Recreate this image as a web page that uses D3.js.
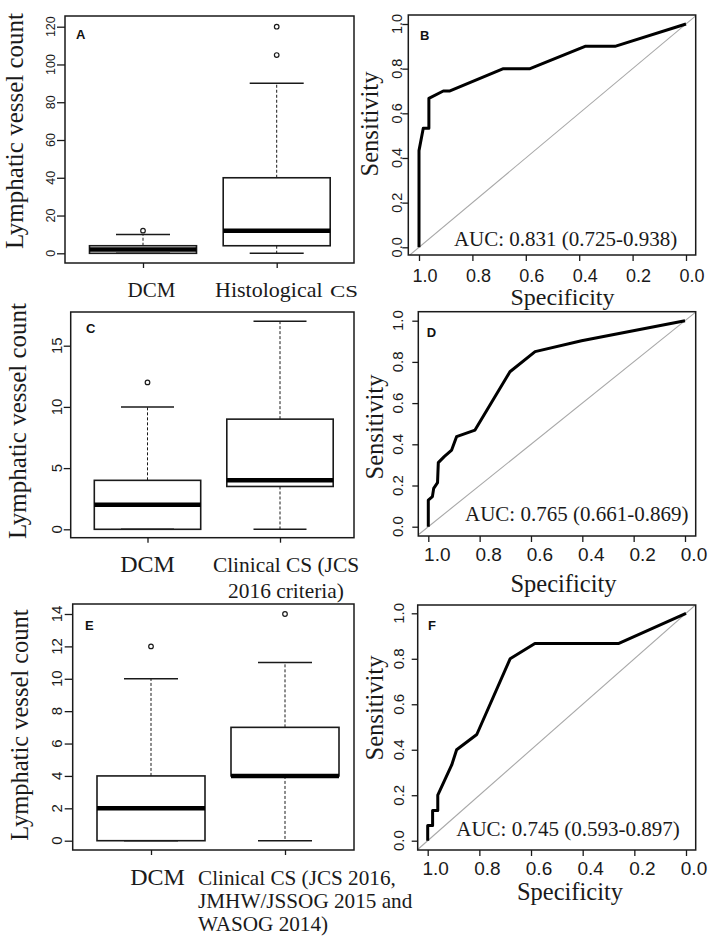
<!DOCTYPE html>
<html><head><meta charset="utf-8">
<script src="https://cdn.jsdelivr.net/npm/d3@7"></script>
<style>body{margin:0;background:#fff}svg{display:block}</style>
</head><body>
<svg id="c" width="709" height="938"></svg>
<script>
// ---------------- DATA ----------------
const categoriesA = ["DCM", "Histological CS"];
const categoriesC = ["DCM", "Clinical CS (JCS 2016 criteria)"];
const categoriesE = ["DCM", "Clinical CS (JCS 2016, JMHW/JSSOG 2015 and WASOG 2014)"];
// [lower whisker, Q1, median, Q3, upper whisker]
const boxA_DCM = [0, 0, 2, 4, 10];
const boxA_CS  = [0, 4, 12, 40, 90];
const outliersA_DCM = [12];
const outliersA_CS  = [105, 120];
const boxC_DCM = [0, 0, 2, 4, 10];
const boxC_CS  = [0, 3.5, 4, 9, 17];
const outliersC_DCM = [12];
const outliersC_CS  = [];
const boxE_DCM = [0, 0, 2, 4, 10];
const boxE_CS  = [0, 4, 4, 7, 11];
const outliersE_DCM = [12];
const outliersE_CS  = [14];
const ticksA = [0, 20, 40, 60, 80, 100, 120];
const ticksC = [0, 5, 10, 15];
const ticksE = [0, 2, 4, 6, 8, 10, 12, 14];
const rocTicks = [0, 0.2, 0.4, 0.6, 0.8, 1.0];

const rocB_spec = [1, 1, 0.984, 0.963, 0.963, 0.909, 0.884, 0.684, 0.584, 0.378, 0.266, 0];
const rocB_sens = [0, 0.433, 0.533, 0.533, 0.667, 0.70, 0.70, 0.80, 0.80, 0.90, 0.90, 1];
const rocD_spec = [1, 1, 0.984, 0.979, 0.964, 0.961, 0.938, 0.909, 0.89, 0.818, 0.682, 0.584, 0.403, 0];
const rocD_sens = [0, 0.129, 0.146, 0.186, 0.214, 0.311, 0.34, 0.372, 0.437, 0.469, 0.752, 0.85, 0.903, 1];
const rocF_spec = [1, 1, 0.981, 0.981, 0.961, 0.961, 0.907, 0.888, 0.81, 0.681, 0.585, 0.262, 0];
const rocF_sens = [0, 0.067, 0.067, 0.133, 0.133, 0.2, 0.333, 0.4, 0.467, 0.8, 0.867, 0.867, 1];
const aucB = "AUC: 0.831 (0.725-0.938)";
const aucD = "AUC: 0.765 (0.661-0.869)";
const aucF = "AUC: 0.745 (0.593-0.897)";
const yLabelBox = "Lymphatic vessel count";
const xLabelROC = "Specificity";
const yLabelROC = "Sensitivity";

// ---------------- DRAWING ----------------
const svg = d3.select("#c");
svg.append("rect").attr("width", 709).attr("height", 938).attr("fill", "#fff");
const SERIF = "'Liberation Serif','Times New Roman',serif";
const SANS = "'Liberation Sans',Arial,Helvetica,sans-serif";
const INK = "#1a1a1a";

function rotText(g, x, y, txt, size, family) {
  return g.append("text").attr("transform", `translate(${x},${y}) rotate(-90)`)
    .attr("text-anchor", "middle").attr("font-family", family).attr("font-size", size)
    .attr("fill", INK).text(txt);
}

function drawBoxPanel(cfg) {
  const g = svg.append("g");
  const [fl, ft, fr, fb] = cfg.frame;
  const y = d3.scaleLinear().domain(cfg.yDomain).range(cfg.yRange);
  const x = d3.scalePoint().domain(cfg.categories).range(cfg.centers);

  const ya = g.append("g").attr("transform", `translate(${fl},0)`)
    .call(d3.axisLeft(y).tickValues(cfg.ticks).tickSize(cfg.tickLen).tickFormat(""));
  ya.select(".domain").remove();
  ya.selectAll("line").attr("stroke", INK).attr("stroke-width", 1.3);
  cfg.ticks.forEach(v => rotText(g, cfg.tickLabelX, y(v), String(v), cfg.tickFont, SANS));

  const xa = g.append("g").attr("transform", `translate(0,${fb})`)
    .call(d3.axisBottom(x).tickSize(5).tickFormat(""));
  xa.select(".domain").remove();
  xa.selectAll("line").attr("stroke", INK).attr("stroke-width", 1.3);

  cfg.stats.forEach((s, i) => {
    const cx = x(cfg.categories[i]);
    const [lo, q1, med, q3, hi] = s;
    g.append("line").attr("x1", cx).attr("x2", cx).attr("y1", y(q3)).attr("y2", y(hi))
      .attr("stroke", INK).attr("stroke-width", 1).attr("stroke-dasharray", "3,2");
    g.append("line").attr("x1", cx).attr("x2", cx).attr("y1", y(q1)).attr("y2", y(lo))
      .attr("stroke", INK).attr("stroke-width", 1).attr("stroke-dasharray", "3,2");
    [lo, hi].forEach(v => g.append("line").attr("x1", cx - cfg.capHalf).attr("x2", cx + cfg.capHalf)
      .attr("y1", y(v)).attr("y2", y(v)).attr("stroke", INK).attr("stroke-width", 1.5));
    g.append("rect").attr("x", cx - cfg.boxHalf).attr("width", 2 * cfg.boxHalf)
      .attr("y", y(q3)).attr("height", y(q1) - y(q3))
      .attr("fill", "none").attr("stroke", INK).attr("stroke-width", 1.6);
    g.append("line").attr("x1", cx - cfg.boxHalf).attr("x2", cx + cfg.boxHalf)
      .attr("y1", y(med)).attr("y2", y(med)).attr("stroke", "#000").attr("stroke-width", 4.5);
    cfg.outliers[i].forEach(v => g.append("circle").attr("cx", cx).attr("cy", y(v)).attr("r", 2.3)
      .attr("fill", "none").attr("stroke", INK).attr("stroke-width", 1.2));
  });

  g.append("rect").attr("x", fl).attr("y", ft).attr("width", fr - fl).attr("height", fb - ft)
    .attr("fill", "none").attr("stroke", INK).attr("stroke-width", 1.5);

  g.append("text").attr("x", cfg.letterPos[0]).attr("y", cfg.letterPos[1])
    .attr("font-family", SANS).attr("font-weight", "bold").attr("font-size", 13)
    .attr("fill", "#111").text(cfg.letter);

  rotText(g, cfg.ylabX, cfg.ylabY, yLabelBox, cfg.ylabFont, SERIF);
  cfg.drawLabels(g, x);
}

function drawROC(cfg) {
  const g = svg.append("g");
  const [fl, ft, fr, fb] = cfg.frame;
  const x = d3.scaleLinear().domain([1, 0]).range(cfg.xRange);
  const y = d3.scaleLinear().domain([0, 1]).range(cfg.yRange);
  const clipId = "clip" + cfg.letter;
  g.append("clipPath").attr("id", clipId).append("rect")
    .attr("x", fl).attr("y", ft).attr("width", fr - fl).attr("height", fb - ft);

  const s1 = x.invert(fl), s2 = x.invert(fr);
  g.append("line").attr("clip-path", `url(#${clipId})`)
    .attr("x1", x(s1)).attr("y1", y(1 - s1)).attr("x2", x(s2)).attr("y2", y(1 - s2))
    .attr("stroke", "#a8a8a8").attr("stroke-width", 1.1);

  const line = d3.line().x(i => x(cfg.spec[i])).y(i => y(cfg.sens[i]));
  g.append("path").attr("d", line(d3.range(cfg.spec.length)))
    .attr("fill", "none").attr("stroke", "#000").attr("stroke-width", 3)
    .attr("stroke-linejoin", "round");

  const ya = g.append("g").attr("transform", `translate(${fl},0)`)
    .call(d3.axisLeft(y).tickValues(rocTicks).tickSize(6).tickFormat(""));
  ya.select(".domain").remove();
  ya.selectAll("line").attr("stroke", INK).attr("stroke-width", 1.3);
  rocTicks.forEach(v => rotText(g, cfg.yTickX, y(v), d3.format(".1f")(v), cfg.yTickFont, SANS));

  const xa = g.append("g").attr("transform", `translate(0,${fb})`)
    .call(d3.axisBottom(x).tickValues(rocTicks).tickSize(6).tickFormat(""));
  xa.select(".domain").remove();
  xa.selectAll("line").attr("stroke", INK).attr("stroke-width", 1.3);
  rocTicks.forEach(v => g.append("text").attr("x", x(v) + cfg.xTickDx).attr("y", cfg.xTickY)
    .attr("text-anchor", "middle").attr("font-family", SANS).attr("font-size", cfg.xTickFont)
    .attr("fill", INK).text(d3.format(".1f")(v)));

  g.append("rect").attr("x", fl).attr("y", ft).attr("width", fr - fl).attr("height", fb - ft)
    .attr("fill", "none").attr("stroke", INK).attr("stroke-width", 1.5);

  g.append("text").attr("x", cfg.letterPos[0]).attr("y", cfg.letterPos[1])
    .attr("font-family", SANS).attr("font-weight", "bold").attr("font-size", 13)
    .attr("fill", "#111").text(cfg.letter);

  g.append("text").attr("x", x(cfg.aucSpec)).attr("y", y(0) + cfg.aucDy)
    .attr("text-anchor", "middle").attr("font-family", SERIF).attr("font-size", 21)
    .attr("fill", INK).text(cfg.auc);

  g.append("text").attr("x", cfg.specPos[0]).attr("y", cfg.specPos[1])
    .attr("text-anchor", "middle").attr("font-family", SERIF).attr("font-size", cfg.specFont || 24.5)
    .attr("fill", INK).text(xLabelROC);
  rotText(g, cfg.sensPos[0], cfg.sensPos[1], yLabelROC, 24.5, SERIF);
}

// ---- Panel A ----
drawBoxPanel({
  categories: categoriesA, stats: [boxA_DCM, boxA_CS], outliers: [outliersA_DCM, outliersA_CS],
  ticks: ticksA, yDomain: [0, 120], yRange: [253.3, 26.7],
  frame: [65, 16, 354, 263], centers: [143, 276.7], boxHalf: 53.5, capHalf: 27,
  tickLen: 8, tickLabelX: 55, tickFont: 12.5,
  ylabX: 23, ylabY: 131, ylabFont: 25, letter: "A", letterPos: [76, 39],
  drawLabels: (g, x) => {
    g.append("text").attr("x", 151.5).attr("y", 296.7).attr("text-anchor", "middle")
      .attr("font-family", SERIF).attr("font-size", 21).attr("fill", INK).text("DCM");
    g.append("text").attr("x", 215).attr("y", 296.7)
      .attr("font-family", SERIF).attr("font-size", 22).attr("fill", INK).text("Histological");
    g.append("text").attr("x", 330).attr("y", 296.7)
      .attr("font-family", SERIF).attr("font-size", 17).attr("fill", INK)
      .attr("textLength", 28).attr("lengthAdjust", "spacingAndGlyphs").text("CS");
  }
});

// ---- Panel C ----
drawBoxPanel({
  categories: categoriesC, stats: [boxC_DCM, boxC_CS], outliers: [outliersC_DCM, outliersC_CS],
  ticks: ticksC, yDomain: [0, 15], yRange: [529.3, 345.7],
  frame: [70.7, 312, 354, 537.7], centers: [147.5, 280], boxHalf: 53.2, capHalf: 26.5,
  tickLen: 7, tickLabelX: 62, tickFont: 15,
  ylabX: 26, ylabY: 421, ylabFont: 25, letter: "C", letterPos: [86, 333],
  drawLabels: (g, x) => {
    g.append("text").attr("x", 147.5).attr("y", 571.7).attr("text-anchor", "middle")
      .attr("font-family", SERIF).attr("font-size", 24).attr("fill", INK).text("DCM");
    [["Clinical CS (JCS", 571.7], ["2016 criteria)", 598.3]].forEach(([t, yy]) =>
      g.append("text").attr("x", 286).attr("y", yy).attr("text-anchor", "middle")
        .attr("font-family", SERIF).attr("font-size", 21.4).attr("fill", INK).text(t));
  }
});

// ---- Panel E ----
drawBoxPanel({
  categories: categoriesE, stats: [boxE_DCM, boxE_CS], outliers: [outliersE_DCM, outliersE_CS],
  ticks: ticksE, yDomain: [0, 14], yRange: [840.7, 614],
  frame: [72.7, 604, 354, 850], centers: [151, 285], boxHalf: 54, capHalf: 27,
  tickLen: 8, tickLabelX: 62, tickFont: 15,
  ylabX: 28, ylabY: 725, ylabFont: 24.5, letter: "E", letterPos: [85, 630],
  drawLabels: (g, x) => {
    g.append("text").attr("x", 157.5).attr("y", 885).attr("text-anchor", "middle")
      .attr("font-family", SERIF).attr("font-size", 24).attr("fill", INK).text("DCM");
    [["Clinical CS (JCS 2016,", 885], ["JMHW/JSSOG 2015 and", 907.7], ["WASOG 2014)", 930.5]].forEach(([t, yy]) =>
      g.append("text").attr("x", 198).attr("y", yy)
        .attr("font-family", SERIF).attr("font-size", 21.2).attr("fill", INK).text(t));
  }
});

// ---- ROC panels ----
drawROC({
  letter: "B", spec: rocB_spec, sens: rocB_sens, auc: aucB,
  frame: [408.3, 15, 695.7, 255], xRange: [419, 686], yRange: [247.3, 24],
  yTickX: 401.5, yTickFont: 14.5, xTickDx: 6, xTickY: 281.5, xTickFont: 18,
  letterPos: [420, 40], aucSpec: 0.451, aucDy: -1.5,
  specPos: [562.5, 305], specFont: 24, sensPos: [378, 124]
});
drawROC({
  letter: "D", spec: rocD_spec, sens: rocD_sens, auc: aucD,
  frame: [418.3, 311.7, 695.7, 536], xRange: [428.3, 685], yRange: [526.7, 320.7],
  yTickX: 403, yTickFont: 15, xTickDx: 9, xTickY: 560.7, xTickFont: 19,
  letterPos: [426.7, 337], aucSpec: 0.422, aucDy: -6,
  specPos: [563.5, 591.7], sensPos: [383, 427]
});
drawROC({
  letter: "F", spec: rocF_spec, sens: rocF_sens, auc: aucF,
  frame: [417.7, 605, 695.7, 850], xRange: [427.7, 686], yRange: [840.7, 613.3],
  yTickX: 404, yTickFont: 15, xTickDx: 8, xTickY: 875, xTickFont: 19,
  letterPos: [428, 630], aucSpec: 0.457, aucDy: -5,
  specPos: [570, 900], sensPos: [383, 708]
});
</script>
</body></html>
